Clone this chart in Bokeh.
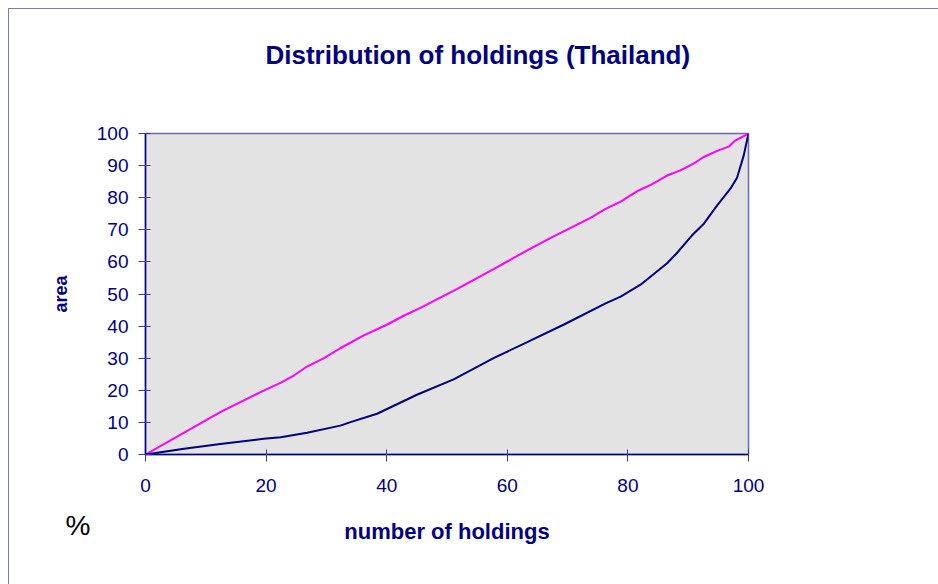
from bokeh.plotting import figure
from bokeh.models import FixedTicker, Title
from bokeh.embed import file_html
from bokeh.resources import INLINE

# Data (cumulative %)
holdings_x = [0, 6.4, 12.4, 19.6, 22.4, 26.8, 32.3, 34.0, 38.4, 45.1, 51.1, 57.8, 63.3,
              69.4, 76.3, 78.8, 82.1, 86.5, 88.1, 90.6, 92.6, 94.8, 97.0, 98.1, 99.2, 100]
area_y = [0, 1.8, 3.3, 4.9, 5.4, 6.8, 9.0, 10.1, 12.7, 18.7, 23.4, 30.1, 35.0,
          40.5, 47.1, 49.2, 52.9, 59.6, 62.7, 68.2, 71.9, 77.6, 82.8, 86.2, 93.1, 100]

equal_x = [0, 12.4, 19.6, 22.4, 24.6, 26.8, 29.6, 32.3, 36.2, 40.1, 42.9, 45.6, 51.7,
           57.8, 63.3, 67.2, 73.8, 76.3, 78.8, 81.5, 83.8, 86.5, 88.7, 90.9, 92.5,
           94.7, 96.7, 97.8, 100]
equal_y = [0, 13.2, 19.9, 22.3, 24.6, 27.4, 30.0, 33.1, 37.1, 40.5, 43.3, 45.7, 51.6,
           57.8, 63.6, 67.5, 73.7, 76.5, 78.8, 82.0, 84.0, 86.9, 88.5, 90.6, 92.6,
           94.5, 95.9, 97.8, 100]

x_ticks = [0, 20, 40, 60, 80, 100]
y_ticks = [0, 10, 20, 30, 40, 50, 60, 70, 80, 90, 100]

title_text = "Distribution of holdings (Thailand)"
x_label = "number of holdings"
y_label = "area"
unit_text = "%"

NAVY = "#000080"
FONT = "Liberation Sans"

p = figure(frame_width=603, frame_height=321,
           min_border_left=136, min_border_top=124, min_border_right=190, min_border_bottom=130,
           x_range=(0, 100), y_range=(0, 100), title=None,
           output_backend="svg", toolbar_location=None)
p.styles = {"margin-left": "8px", "margin-top": "8px",
            "border-left": "1px solid #7a7abb", "border-top": "1px solid #7a7abb"}

main_title = Title(text=title_text, align="left", offset=120, vertical_align="top",
                   standoff=0, padding=dict(left=0, right=0, top=0, bottom=62),
                   text_color=NAVY, text_font=FONT, text_font_style="bold",
                   text_font_size="26px")
p.add_layout(main_title, "above")

p.background_fill_color = "#e3e3e3"
p.border_fill_color = "white"
p.outline_line_color = "#6a6ab0"
p.outline_line_width = 1.5
p.xgrid.visible = False
p.ygrid.visible = False

p.line(equal_x, equal_y, line_color="#ff00ff", line_width=2)
p.line(holdings_x, area_y, line_color=NAVY, line_width=2)

for ax in (p.xaxis[0], p.yaxis[0]):
    ax.axis_line_color = NAVY
    ax.axis_line_width = 1.5
    ax.major_tick_line_color = "#3a3a9a"
    ax.major_tick_line_width = 1
    ax.major_tick_in = 5
    ax.major_tick_out = 7
    ax.minor_tick_line_color = None
    ax.major_label_text_color = NAVY
    ax.major_label_text_font = FONT
    ax.major_label_text_font_size = "19px"
    ax.axis_label_text_color = NAVY
    ax.axis_label_text_font = FONT
    ax.axis_label_text_font_style = "bold"

p.xaxis.ticker = FixedTicker(ticks=x_ticks)
p.yaxis.ticker = FixedTicker(ticks=y_ticks)
p.xaxis.major_label_standoff = 17
p.yaxis.major_label_standoff = 10
p.xaxis.axis_label = x_label
p.xaxis.axis_label_text_font_size = "22px"
p.xaxis.axis_label_standoff = 24
p.yaxis.axis_label = y_label
p.yaxis.axis_label_text_font_size = "18px"
p.yaxis.axis_label_standoff = 23

unit_kwargs = dict(text=unit_text, align="left", offset=-80, vertical_align="top",
                   text_color="black", text_font=FONT, text_font_style="normal",
                   text_font_size="28px")
try:
    unit = Title(standoff=-74, **unit_kwargs)
except Exception:
    unit = Title(standoff=0, **unit_kwargs)
p.add_layout(unit, "below")

open("out.html", "w").write(file_html(p, INLINE))
